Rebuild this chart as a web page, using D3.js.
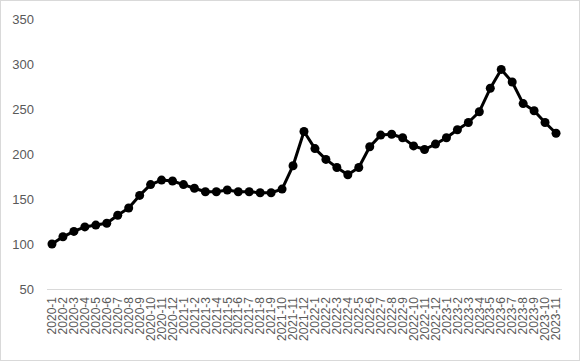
<!DOCTYPE html>
<html><head><meta charset="utf-8">
<script src="https://cdn.jsdelivr.net/npm/d3@7"></script>
<style>body{margin:0;background:#fff}svg{display:block}</style>
</head><body><svg id="c" width="580" height="361"></svg>
<script>
const categories = ["2020-1","2020-2","2020-3","2020-4","2020-5","2020-6","2020-7","2020-8","2020-9","2020-10","2020-11","2020-12",
"2021-1","2021-2","2021-3","2021-4","2021-5","2021-6","2021-7","2021-8","2021-9","2021-10","2021-11","2021-12",
"2022-1","2022-2","2022-3","2022-4","2022-5","2022-6","2022-7","2022-8","2022-9","2022-10","2022-11","2022-12",
"2023-1","2023-2","2023-3","2023-4","2023-5","2023-6","2023-7","2023-8","2023-9","2023-10","2023-11"];
const values = [100,108,114,119,121,123,132,140,154,166,171,170,
166,162,158,158,160,158,158,157,157,161,187,225,
206,194,185,177,185,208,221,222,218,209,205,211,
218,227,235,247,273,294,280,256,248,235,223];
const yTicks = [50,100,150,200,250,300,350];

const svg = d3.select("#c");
svg.append("rect").attr("x",0.5).attr("y",0.5).attr("width",579).attr("height",360)
  .attr("fill","#fff").attr("stroke","#d9d9d9");

const x = d3.scaleBand().domain(categories).range([46.5,561.5]);
const y = d3.scaleLinear().domain([50,350]).range([289,19]);
const font = "'Liberation Sans', Arial, sans-serif";

// y axis labels
const ya = svg.append("g").attr("transform","translate(34,0)")
  .call(d3.axisLeft(y).tickValues(yTicks).tickSize(0).tickPadding(0));
ya.select(".domain").remove();
ya.selectAll("text").attr("fill","#595959").style("font-family",font).style("font-size","13px");

// x axis
const xa = svg.append("g").attr("transform","translate(0,289)")
  .call(d3.axisBottom(x).tickSize(0).tickPadding(0));
xa.select(".domain").attr("stroke","#d9d9d9").attr("stroke-width",1);
xa.selectAll("text").attr("fill","#595959").style("font-family",font).style("font-size","12px")
  .attr("text-anchor","end").attr("dy","0.35em")
  .attr("transform","translate(0,8) rotate(-90)").attr("x",0).attr("y",0);

const cx = d => x(d) + x.bandwidth()/2;
const pts = categories.map((c,i)=>[cx(c), y(values[i])]);
svg.append("path").attr("d", d3.line()(pts)).attr("fill","none")
  .attr("stroke","#000").attr("stroke-width",3).attr("stroke-linejoin","round");
svg.append("g").selectAll("circle").data(pts).join("circle")
  .attr("cx",d=>d[0]).attr("cy",d=>d[1]).attr("r",4.5).attr("fill","#000");
</script></body></html>
